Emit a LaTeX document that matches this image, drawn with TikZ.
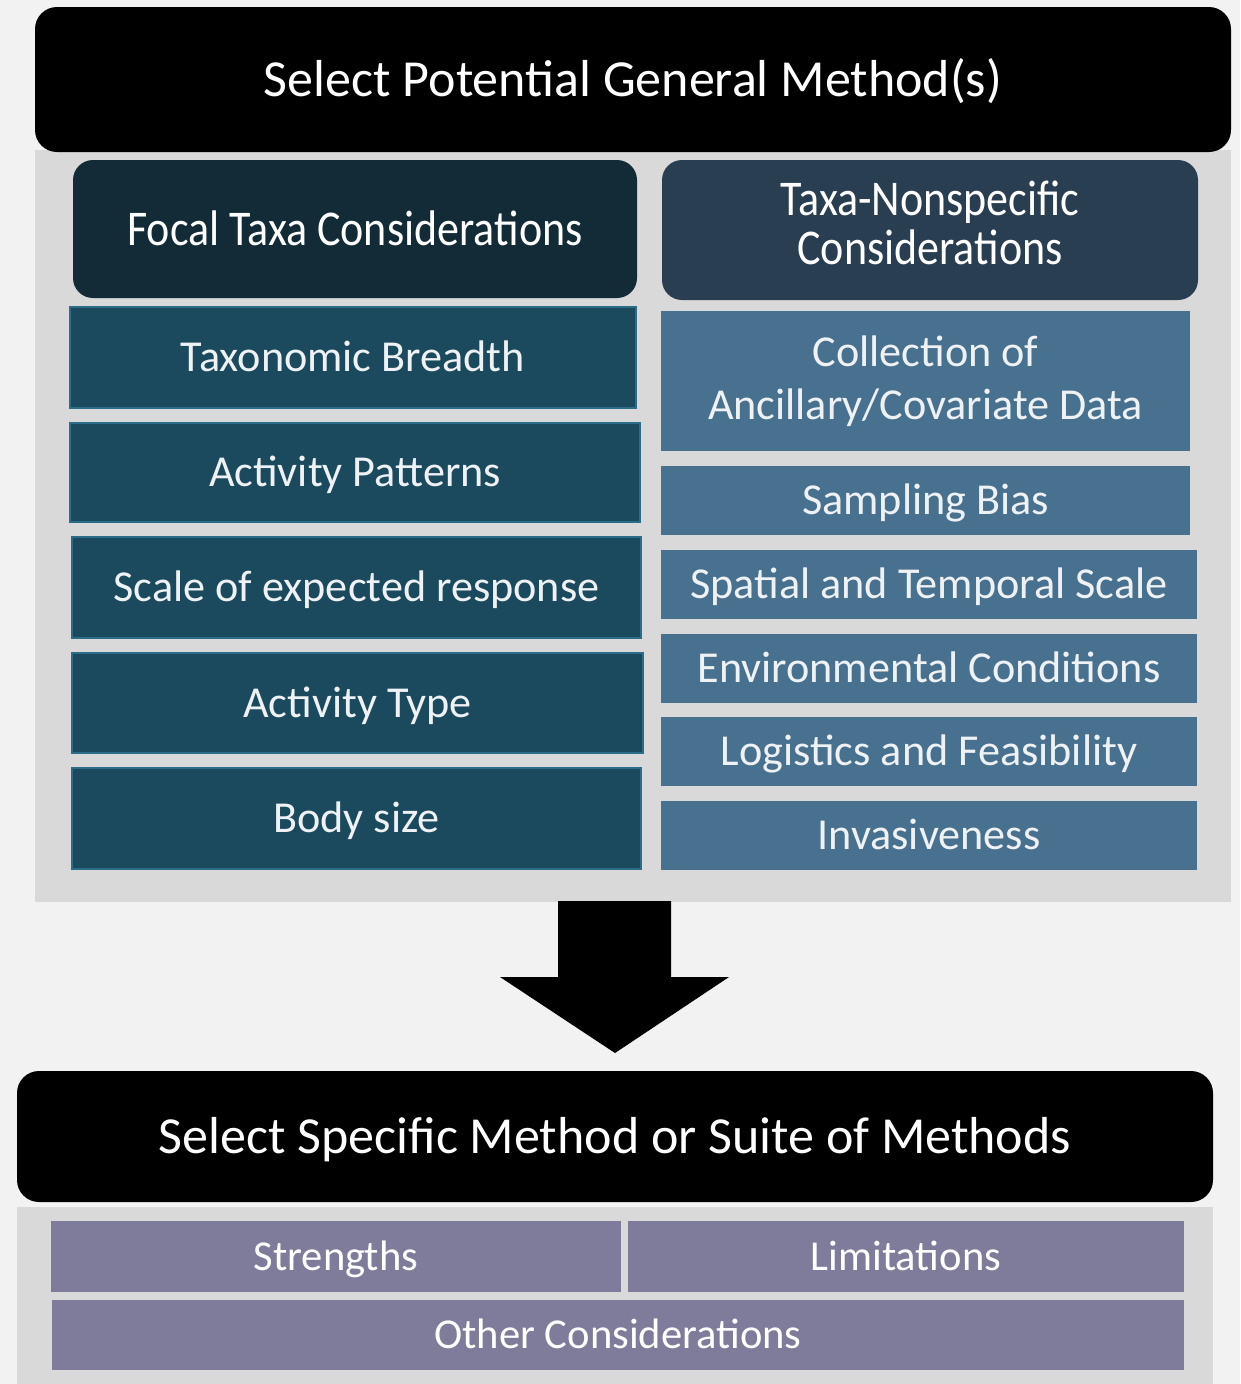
\documentclass[tikz,border=0pt]{standalone}
\usepackage{fontspec}
\setmainfont{Carlito}
\usepackage{graphicx}
\definecolor{bgc}{HTML}{F2F2F2}
\definecolor{panelc}{HTML}{D9D9D9}
\definecolor{lhead}{HTML}{132B37}
\definecolor{rhead}{HTML}{2A3E52}
\definecolor{litemc}{HTML}{1B4A5E}
\definecolor{litemb}{HTML}{2B6C88}
\definecolor{ritemc}{HTML}{48708F}
\definecolor{purp}{HTML}{7F7C9B}
\definecolor{txtc}{HTML}{EEF2F4}
\begin{document}
\begin{tikzpicture}[x=1pt,y=-1pt,
  base/.style={anchor=north west, inner sep=0pt, outer sep=0pt, align=center},
  oneline/.style={text height=#1*0.85pt, text depth=#1*0.206pt},
  titlebox/.style={base, oneline=52, fill=black, rounded corners=22pt, text=white, font=\fontsize{52}{60}\selectfont},
  headbox/.style={base, rounded corners=20pt, text=white, font=\fontsize{50}{48}\selectfont},
  litem/.style={base, oneline=44.2, fill=litemc, draw=litemb, line width=2pt, text=txtc, font=\fontsize{44.2}{53}\selectfont},
  ritem/.style={base, fill=ritemc, text=txtc, font=\fontsize{44.2}{53}\selectfont},
  pitem/.style={base, oneline=42.6, fill=purp, text=white, font=\fontsize{42.6}{50}\selectfont},
  blockarrow/.style={fill=black}
]
\useasboundingbox (0,0) rectangle (1240,1384);
\fill[bgc] (0,0) rectangle (1240,1384);
% top panel
\fill[panelc] (35,150) rectangle (1231,902);
\node[titlebox, minimum width=1196pt, minimum height=145pt] (t1) at (35,7) {Select Potential General Method(s)};
\node[headbox, oneline=50, fill=lhead, minimum width=564pt, minimum height=138pt] (lh) at (73,160) {\scalebox{0.88}[1]{Focal Taxa Considerations}};
\node[headbox, fill=rhead, minimum width=536pt, minimum height=140pt] (rh) at (662,160) {\scalebox{0.88}[1]{\begin{tabular}{@{}c@{}}Taxa-Nonspecific\\Considerations\end{tabular}}};
% left items
\node[litem, minimum width=566pt, minimum height=101pt] (l1) at (70,307) {Taxonomic Breadth};
\node[litem, minimum width=570pt, minimum height=99pt] (l2) at (70,423) {Activity Patterns};
\node[litem, minimum width=569pt, minimum height=101pt] (l3) at (72,537) {Scale of expected response};
\node[litem, minimum width=571pt, minimum height=100pt] (l4) at (72,653) {Activity Type};
\node[litem, minimum width=569pt, minimum height=101pt] (l5) at (72,768) {Body size};
% right items
\node[ritem, minimum width=529pt, minimum height=140pt] (r1) at (661,311) {Collection of\\Ancillary/Covariate Data};
\node[ritem, oneline=44.2, minimum width=529pt, minimum height=69pt] (r2) at (661,466) {Sampling Bias};
\node[ritem, oneline=44.2, minimum width=536pt, minimum height=69pt] (r3) at (661,550) {Spatial and Temporal Scale};
\node[ritem, oneline=44.2, minimum width=536pt, minimum height=69pt] (r4) at (661,634) {Environmental Conditions};
\node[ritem, oneline=44.2, minimum width=536pt, minimum height=69pt] (r5) at (661,717) {Logistics and Feasibility};
\node[ritem, oneline=44.2, minimum width=536pt, minimum height=69pt] (r6) at (661,801) {Invasiveness};
% arrow
\fill[blockarrow] (558,901) -- (671,901) -- (671,977) -- (729,977) -- (615,1053) -- (500,977) -- (558,977) -- cycle;
% bottom panel
\fill[panelc] (17,1207) rectangle (1213,1384);
\node[titlebox, minimum width=1196pt, minimum height=131pt] (t2) at (17,1071) {Select Specific Method or Suite of Methods};
\node[pitem, minimum width=570pt, minimum height=71pt] (p1) at (51,1221) {Strengths};
\node[pitem, minimum width=556pt, minimum height=71pt] (p2) at (628,1221) {Limitations};
\node[pitem, minimum width=1132pt, minimum height=70pt] (p3) at (52,1300) {Other Considerations};
\end{tikzpicture}
\end{document}
